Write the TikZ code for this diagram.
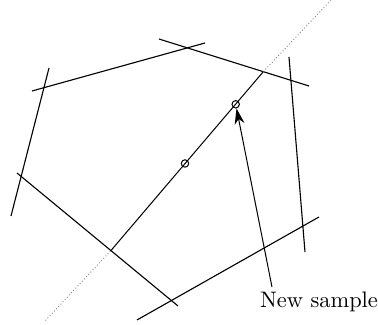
\documentclass[tikz,border=0pt]{standalone}
\usetikzlibrary{positioning, arrows.meta}
\tikzset{
	cut/.style={black, line width=.5pt},
	ray/.style={gray, densely dotted, line width=.4pt},
	sample/.style={circle, draw=black, line width=.45pt, inner sep=0pt, minimum size=3.3pt}
}

\begin{document}
\begin{tikzpicture}[x=0.01567cm, y=-0.01567cm]
\useasboundingbox (0,0) rectangle (378,325);
% cutting planes
\coordinate (p1a) at (32,91);
\coordinate (p1b) at (205,43);
\coordinate (p2a) at (159,39);
\coordinate (p2b) at (309,86);
\coordinate (p3a) at (49,68);
\coordinate (p3b) at (11,216);
\coordinate (p4a) at (289,57);
\coordinate (p4b) at (305,252);
\coordinate (p5a) at (17,173);
\coordinate (p5b) at (178,306);
\coordinate (p6a) at (137,320);
\coordinate (p6b) at (319,217);
\draw [cut] (p1a) -- (p1b);
\draw [cut] (p2a) -- (p2b);
\draw [cut] (p3a) -- (p3b);
\draw [cut] (p4a) -- (p4b);
\draw [cut] (p5a) -- (p5b);
\draw [cut] (p6a) -- (p6b);
% line through the samples
\coordinate (r0) at (45.5,320.5);
\coordinate (r1) at (330.5,0.5);
\coordinate (s0) at (111,250.5);
\coordinate (s1) at (263.3,71.7);
\draw [ray] (r0) -- (s0);
\draw [ray] (s1) -- (r1);
\draw [cut, line width=.45pt] (s0) -- (s1);
\node [sample] (old) at (185,163.5) {};
\node [sample] (new) at (235.7,104.3) {};
\node [anchor=base] (lbl) at (319,308) {New sample};
\coordinate (tail) at (272,287);
\draw [line width=.45pt, -{Stealth[length=7pt, width=4.4pt, inset=2.2pt]}] (tail) -- (new);
\end{tikzpicture}
\end{document}
